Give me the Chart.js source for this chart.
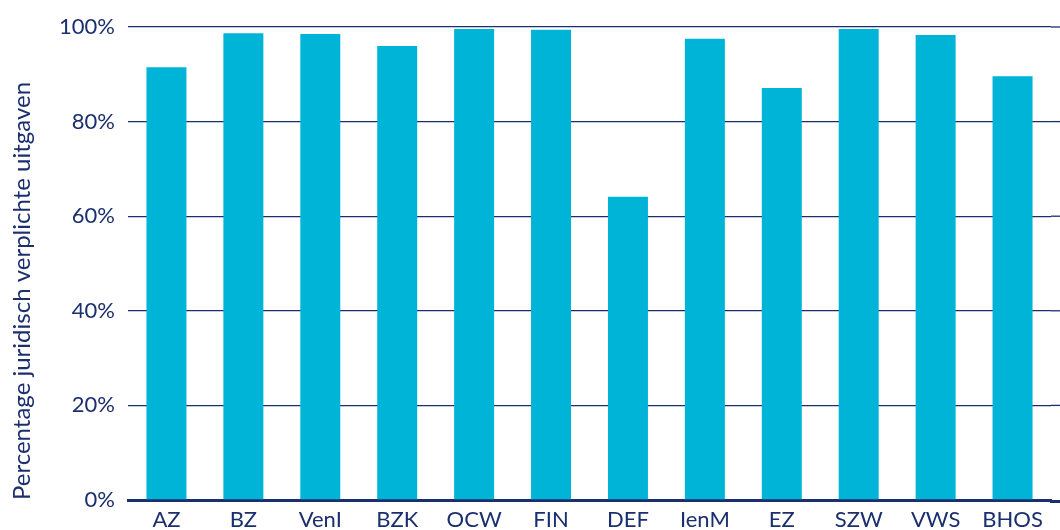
<!DOCTYPE html>
<html>
<head>
<meta charset="utf-8">
<script src="https://cdn.jsdelivr.net/npm/chart.js@4"></script>
<style>
  html, body { margin: 0; padding: 0; background: #fff; }
  #wrap { width: 1060px; height: 530px; }
</style>
</head>
<body>
<div id="wrap"><canvas id="chart"></canvas></div>
<script>
const categories = ['AZ', 'BZ', 'VenI', 'BZK', 'OCW', 'FIN', 'DEF', 'IenM', 'EZ', 'SZW', 'VWS', 'BHOS'];
const values     = [91.5, 98.7, 98.5, 96.0, 99.6, 99.4, 64.1, 97.5, 87.1, 99.6, 98.3, 89.6];
const yTicks     = [0, 20, 40, 60, 80, 100];

const NAVY = '#1b2f6e';
const BAR  = '#00b4d8';
const FONT = 'Lato, "Open Sans", sans-serif';

// grid lines and the base line run on to the right edge of the canvas
const extendGrid = {
    id: 'extendGrid',
    beforeDatasetsDraw(chart) {
        const { ctx, chartArea, scales } = chart;
        ctx.save();
        ctx.strokeStyle = NAVY;
        ctx.lineWidth = 1.3;
        yTicks.forEach(v => {
            if (v === 0) return;
            const y = scales.y.getPixelForValue(v);
            ctx.beginPath();
            ctx.moveTo(chartArea.right, y);
            ctx.lineTo(chart.width, y);
            ctx.stroke();
        });
        ctx.lineWidth = 3;
        const y0 = scales.y.getPixelForValue(0) + 1.5;
        ctx.beginPath();
        ctx.moveTo(chartArea.right - 1, y0);
        ctx.lineTo(chart.width, y0);
        ctx.stroke();
        ctx.restore();
    }
};

const ctx = document.getElementById('chart').getContext('2d');
new Chart(ctx, {
    type: 'bar',
    data: {
        labels: categories,
        datasets: [{
            data: values,
            backgroundColor: BAR,
            borderWidth: 0,
            barPercentage: 1,
            categoryPercentage: 0.52,
        }]
    },
    plugins: [extendGrid],
    options: {
        responsive: true,
        maintainAspectRatio: false,
        animation: false,
        layout: { padding: { top: 27, right: 9, bottom: 0, left: 0 } },
        plugins: {
            legend: { display: false },
            tooltip: { enabled: false },
        },
        scales: {
            x: {
                grid: { display: false, drawTicks: false },
                border: { color: NAVY, width: 3 },
                ticks: {
                    color: NAVY,
                    font: { family: FONT, size: 22 },
                    padding: 7,
                    maxRotation: 0,
                    autoSkip: false,
                },
                afterFit: (scale) => { scale.height = 30; },
            },
            y: {
                min: 0,
                max: 100,
                afterBuildTicks: (scale) => { scale.ticks = yTicks.map(v => ({ value: v })); },
                grid: { color: NAVY, lineWidth: 1.3, drawTicks: false },
                border: { display: false },
                ticks: {
                    color: NAVY,
                    font: { family: FONT, size: 22 },
                    padding: 13,
                    callback: (v) => v + '%',
                },
                title: {
                    display: true,
                    text: 'Percentage juridisch verplichte uitgaven',
                    color: NAVY,
                    align: 'start',
                    font: { family: FONT, size: 24 },
                    padding: { top: 8, bottom: 0 },
                },
                afterFit: (scale) => { scale.width = 128; },
            }
        }
    }
});
</script>
</body>
</html>
